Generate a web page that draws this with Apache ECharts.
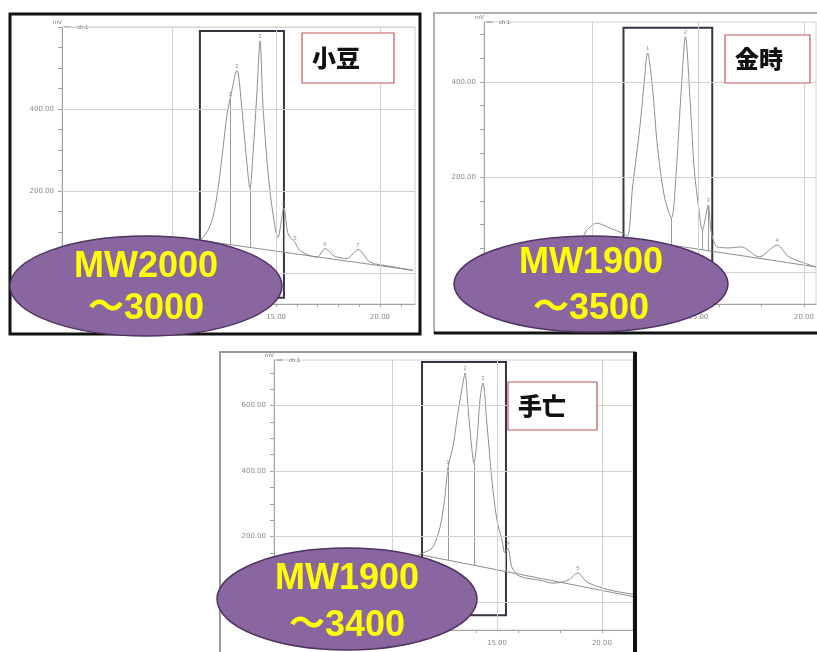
<!DOCTYPE html>
<html>
<head>
<meta charset="utf-8">
<script src="https://cdn.jsdelivr.net/npm/echarts@6/dist/echarts.min.js"></script>
<style>
  html, body { margin: 0; padding: 0; background: #fff; }
  #chart { width: 817px; height: 652px; }
</style>
</head>
<body>
<div id="chart"></div>
<script>
// 小豆 (top left)
const timeAzuki = [4.71, 6.5, 8.5, 10.2, 11.0, 11.49, 11.92, 12.21, 12.45, 12.64, 12.79, 13.12, 13.36, 13.56, 13.75, 13.89, 14.09, 14.23, 14.37, 14.61, 14.85, 15.09, 15.38, 15.58, 15.91, 16.15, 16.97, 17.35, 17.84, 18.41, 18.94, 19.52, 20.48, 21.58];
const mvAzuki = [55, 62, 70, 78, 80, 87, 128, 207, 304, 386, 424, 494, 400, 289, 207, 289, 448, 566, 410, 248, 145, 87, 159, 96, 75, 55, 39, 60, 41, 36, 58, 27, 17, 7];
const baseAzuki = [[11.34, 80], [21.58, 7]];
const dropAzuki = [[12.79, 424, 69], [13.75, 207, 63], [15.38, 159, 51]];
const peakAzuki = [[12.79, 424], [13.12, 494], [14.23, 566], [15.38, 159], [15.91, 75], [17.35, 60], [18.94, 58]];
const boxAzuki = [11.34, 15.38, -60, 590];

// 金時 (top right)
const timeKintoki = [4.86, 7.0, 9.0, 9.5, 9.72, 10.19, 10.8, 11.42, 11.65, 11.89, 12.22, 12.45, 12.6, 12.83, 13.07, 13.4, 13.73, 13.96, 14.2, 14.39, 14.62, 14.81, 15.05, 15.19, 15.47, 15.62, 15.9, 16.46, 17.03, 17.88, 18.73, 19.29, 20.57];
const mvKintoki = [30, 45, 62, 72, 88, 103, 93, 82, 76, 179, 299, 404, 461, 389, 263, 158, 114, 215, 389, 495, 356, 215, 124, 88, 141, 82, 53, 51, 53, 32, 57, 32, 11];
const baseKintoki = [[11.46, 72], [20.57, 11]];
const dropKintoki = [[13.73, 114, 57], [15.19, 88, 46], [15.47, 141, 44]];
const peakKintoki = [[12.6, 461], [14.39, 495], [15.47, 141], [18.73, 57]];
const boxKintoki = [11.46, 15.66, -55, 514];

// 手亡 (bottom)
const timeTebo = [4.38, 7.0, 9.0, 10.5, 11.2, 11.48, 11.95, 12.29, 12.52, 12.67, 12.9, 13.14, 13.38, 13.48, 13.62, 13.81, 13.9, 14.05, 14.19, 14.33, 14.52, 14.76, 15.0, 15.24, 15.38, 15.52, 15.71, 16.0, 16.43, 17.05, 17.67, 18.38, 18.86, 19.29, 20.38, 21.48];
const mvTebo = [110, 125, 135, 140, 143, 150, 168, 229, 321, 412, 473, 577, 669, 699, 595, 464, 424, 495, 617, 669, 547, 372, 250, 189, 150, 165, 107, 82, 73, 67, 58, 67, 89, 61, 37, 24];
const baseTebo = [[11.48, 143], [21.48, 17]];
const dropTebo = [[12.67, 412, 128], [13.9, 424, 113], [15.38, 150, 95]];
const peakTebo = [[12.67, 412], [13.48, 699], [14.33, 669], [15.52, 165], [18.86, 89]];
const boxTebo = [11.43, 15.43, -40, 733];

// axes
const xGrid = [10, 15, 20];
const xLabels = [10, 15, 20];
const xTicksAzuki = [5, 6, 7, 8, 9, 10, 11, 12, 13, 14, 15, 16, 17, 18, 19, 20, 21];
const xTicksEven = [6, 8, 10, 12, 14, 16, 18, 20];
const yGridAzuki = [0, 200, 400, 600];
const yGridKintoki = [0, 200, 400];
const yGridTebo = [0, 200, 400, 600];
const yLabelsAzuki = [0, 200, 400];
const yLabelsKintoki = [0, 200, 400];
const yLabelsTebo = [0, 200, 400, 600];
const yTicksAzuki = [-50, 0, 50, 100, 150, 200, 250, 300, 350, 400, 450, 500, 550, 600];
const yTicksKintoki = [-50, 0, 50, 100, 150, 200, 250, 300, 350, 400, 450, 500];
const yTicksTebo = [-50, 0, 50, 100, 150, 200, 250, 300, 350, 400, 450, 500, 550, 600, 650, 700];

const axisGray = '#a3a3a3';
const gridGray = '#d2d2d2';
const tinyText = { fontSize: 7, color: '#8a8a8a', fontFamily: 'DejaVu Sans' };

function zip(ts, vs) { return ts.map((t, i) => [t, vs[i]]); }

function xAxisFor(gi, min, max, ticks) {
  return {
    type: 'value', gridIndex: gi, min: min, max: max,
    axisLine: { onZero: false, lineStyle: { color: axisGray, width: 1 } },
    axisTick: { show: true, length: 3, customValues: ticks, lineStyle: { color: axisGray } },
    axisLabel: Object.assign({ customValues: xLabels, margin: 10, formatter: v => v.toFixed(2) }, tinyText),
    splitLine: { show: false }
  };
}

function yAxisFor(gi, min, max, ticks, labels) {
  return {
    type: 'value', gridIndex: gi, min: min, max: max,
    name: 'mV', nameLocation: 'end', nameGap: 2,
    nameTextStyle: { fontSize: 6, color: '#777', align: 'right', padding: [0, 0, 0, 0] },
    axisLine: { show: true, lineStyle: { color: axisGray, width: 1 } },
    axisTick: { show: true, length: 4, customValues: ticks, lineStyle: { color: axisGray } },
    axisLabel: Object.assign({ customValues: labels, margin: 8, formatter: v => v.toFixed(2) }, tinyText),
    splitLine: { show: false }
  };
}

function panelSeries(gi, times, mv, base, drops, peaks, box, yGrid) {
  return [
    {
      name: 'ch.1', type: 'line', xAxisIndex: gi, yAxisIndex: gi,
      data: zip(times, mv), smooth: 0.3, symbol: 'none',
      lineStyle: { color: '#8e8e8e', width: 1 }, itemStyle: { color: '#8e8e8e' },
      z: 3,
      markLine: {
        silent: true, symbol: 'none', label: { show: false },
        lineStyle: { color: '#9a9a9a', width: 1, type: 'solid' },
        data: drops.map(d => [{ coord: [d[0], d[1]] }, { coord: [d[0], d[2]] }])
      }
    },
    {
      name: 'baseline', type: 'line', xAxisIndex: gi, yAxisIndex: gi,
      data: base, symbol: 'none',
      lineStyle: { color: '#8e8e8e', width: 1 },
      z: 2,
      markLine: {
        silent: true, symbol: 'none', label: { show: false },
        lineStyle: { color: gridGray, width: 1, type: 'solid' },
        data: xGrid.map(x => ({ xAxis: x })).concat(yGrid.map(y => ({ yAxis: y })))
      }
    },
    {
      name: 'peaks', type: 'scatter', xAxisIndex: gi, yAxisIndex: gi,
      data: peaks.map((p, i) => ({ value: p, name: String(i + 1) })),
      symbolSize: 1, itemStyle: { color: 'rgba(0,0,0,0)' },
      label: { show: true, position: 'top', distance: 1, formatter: '{b}', fontSize: 6, color: '#777' },
      z: 4,
      markArea: {
        silent: true, label: { show: false },
        itemStyle: { color: 'rgba(0,0,0,0)', borderColor: '#3a3342', borderWidth: 2 },
        data: [[{ coord: [box[0], box[3]] }, { coord: [box[1], box[2]] }]]
      }
    }
  ];
}

function nameBox(x, y, w, h, text) {
  return [
    { type: 'rect', z: 100, shape: { x: x, y: y, width: w, height: h },
      style: { fill: '#fff', stroke: '#c4575a', lineWidth: 1.2 } },
    { type: 'text', z: 101, x: x + 10, y: y + h / 2,
      style: { text: text, fontSize: 24, fontWeight: 900, fontFamily: '"Noto Sans CJK JP"',
               fill: '#111', align: 'left', verticalAlign: 'middle' } }
  ];
}

function mwBubble(cx, cy, rx, ry, line1, line2, y1, y2) {
  const font = { fontSize: 36, fontWeight: 'bold', fontFamily: '"Liberation Sans", "Noto Sans CJK JP"',
                 fill: '#ffff00', align: 'center', verticalAlign: 'middle' };
  return [
    { type: 'ellipse', z: 110, shape: { cx: cx, cy: cy, rx: rx, ry: ry },
      style: { fill: '#8a66a0', stroke: '#4e3560', lineWidth: 1.5 } },
    { type: 'text', z: 111, x: cx, y: y1, style: Object.assign({ text: line1 }, font) },
    { type: 'text', z: 111, x: cx, y: y2, style: Object.assign({ text: line2 }, font) }
  ];
}

const frames = [
  { type: 'rect', z: 90, shape: { x: 10, y: 14, width: 410, height: 320 },
    style: { fill: 'none', stroke: '#111', lineWidth: 3 } },
  { type: 'rect', z: 90, shape: { x: 434, y: 13, width: 420, height: 320 },
    style: { fill: 'none', stroke: '#999', lineWidth: 1.5 } },
  { type: 'line', z: 91, shape: { x1: 434, y1: 333, x2: 817, y2: 333 },
    style: { stroke: '#111', lineWidth: 3 } },
  { type: 'rect', z: 90, shape: { x: 220, y: 352, width: 415, height: 320 },
    style: { fill: 'none', stroke: '#999', lineWidth: 2 } },
  { type: 'line', z: 91, shape: { x1: 635, y1: 352, x2: 635, y2: 652 },
    style: { stroke: '#111', lineWidth: 4 } }
];

const chart = echarts.init(document.getElementById('chart'), null, { renderer: 'canvas' });

const option = {
  animation: false,
  backgroundColor: '#fff',
  grid: [
    { left: 62, top: 27, width: 353, height: 277, show: true, borderColor: gridGray, borderWidth: 1, backgroundColor: 'rgba(0,0,0,0)' },
    { left: 484, top: 22, width: 333, height: 282, show: true, borderColor: gridGray, borderWidth: 1, backgroundColor: 'rgba(0,0,0,0)' },
    { left: 274, top: 360, width: 359, height: 270, show: true, borderColor: gridGray, borderWidth: 1, backgroundColor: 'rgba(0,0,0,0)' }
  ],
  xAxis: [
    xAxisFor(0, 4.71, 21.68, xTicksAzuki),
    xAxisFor(1, 4.86, 20.57, xTicksEven),
    xAxisFor(2, 4.38, 21.48, xTicksEven)
  ],
  yAxis: [
    yAxisFor(0, -75, 600, yTicksAzuki, yLabelsAzuki),
    yAxisFor(1, -67, 526, yTicksKintoki, yLabelsKintoki),
    yAxisFor(2, -85, 739, yTicksTebo, yLabelsTebo)
  ],
  legend: [
    { data: ['ch.1'], left: 64, top: 24 },
    { data: ['ch.1'], left: 486, top: 19 },
    { data: ['ch.1'], left: 276, top: 357 }
  ].map(l => Object.assign(l, {
    icon: 'rect', itemWidth: 7, itemHeight: 1, itemGap: 2, padding: 0,
    selectedMode: false, textStyle: { fontSize: 6, color: '#777', padding: [0, 0, 0, 1] }
  })),
  series: [].concat(
    panelSeries(0, timeAzuki, mvAzuki, baseAzuki, dropAzuki, peakAzuki, boxAzuki, yGridAzuki),
    panelSeries(1, timeKintoki, mvKintoki, baseKintoki, dropKintoki, peakKintoki, boxKintoki, yGridKintoki),
    panelSeries(2, timeTebo, mvTebo, baseTebo, dropTebo, peakTebo, boxTebo, yGridTebo)
  ),
  graphic: [].concat(
    frames,
    nameBox(302, 33, 92, 50, '小豆'),
    nameBox(725, 35, 85, 48, '金時'),
    nameBox(508, 382, 89, 48, '手亡'),
    mwBubble(146, 286, 136, 50, 'MW2000', '～3000', 267, 309),
    mwBubble(591, 284, 137, 48, 'MW1900', '～3500', 263, 309),
    mwBubble(347, 599, 130, 51, 'MW1900', '～3400', 579, 626)
  )
};

chart.setOption(option);
</script>
</body>
</html>
